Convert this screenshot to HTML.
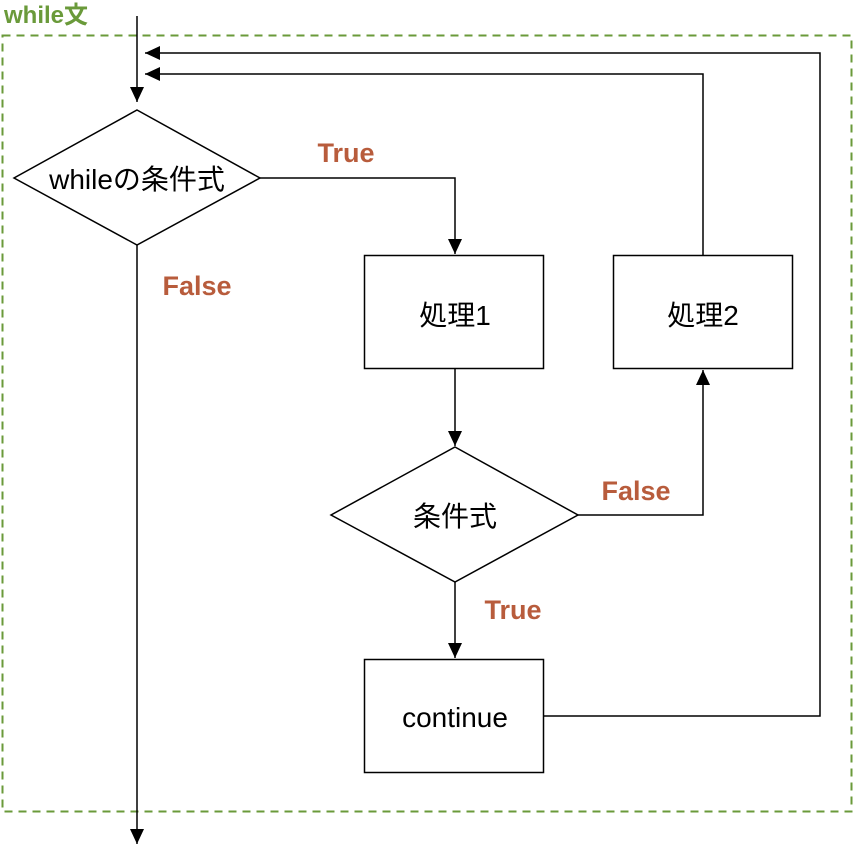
<!DOCTYPE html>
<html><head><meta charset="utf-8"><style>
body{margin:0;background:#fff}
svg{display:block}
text{font-family:"Liberation Sans","Noto Sans CJK JP",sans-serif}
</style></head><body>
<svg width="854" height="845" viewBox="0 0 854 845" xmlns="http://www.w3.org/2000/svg">
<defs>
<marker id="b" markerWidth="16" markerHeight="16" refX="15" refY="7" orient="auto" markerUnits="userSpaceOnUse"><path d="M0,0 L15,7 L0,14 Z" fill="#000"/></marker></defs>
<rect x="2.5" y="35.5" width="849" height="776" fill="none" stroke="#6a9a3a" stroke-width="2" stroke-dasharray="8,6"/>
<text x="4" y="23" font-size="24" font-weight="bold" fill="#6a9a3a">while文</text>
<g stroke="#000" stroke-width="1.5" fill="none">
<line x1="137" y1="16" x2="137" y2="102" marker-end="url(#b)"/>
<polygon points="137,110 260,178 137,245 14,178" fill="#fff"/>
<rect x="364.5" y="255.5" width="179" height="113" fill="#fff"/>
<rect x="613.5" y="255.5" width="179" height="113" fill="#fff"/>
<polygon points="455,447 578,515 455,582 331,515" fill="#fff"/>
<rect x="364.5" y="659.5" width="179" height="113" fill="#fff"/>
<polyline points="260,178 455,178 455,254" marker-end="url(#b)"/>
<line x1="455" y1="369" x2="455" y2="446" marker-end="url(#b)"/>
<polyline points="578,515 703,515 703,370" marker-end="url(#b)"/>
<polyline points="703,255 703,74 145,74" marker-end="url(#b)"/>
<polyline points="543,716 820,716 820,53 145,53" marker-end="url(#b)"/>
<line x1="455" y1="582" x2="455" y2="658" marker-end="url(#b)"/>
<line x1="137" y1="245" x2="137" y2="844" marker-end="url(#b)"/>
</g>
<g font-size="28" text-anchor="middle" fill="#000">
<text x="137" y="189">whileの条件式</text>
<text x="455" y="325">処理1</text>
<text x="703" y="325">処理2</text>
<text x="455" y="526">条件式</text>
<text x="455" y="727">continue</text>
</g>
<g font-size="27" font-weight="bold" fill="#b85c3c" text-anchor="middle">
<text x="346" y="162">True</text>
<text x="197" y="295">False</text>
<text x="636" y="500">False</text>
<text x="513" y="619">True</text>
</g>
</svg>
</body></html>
